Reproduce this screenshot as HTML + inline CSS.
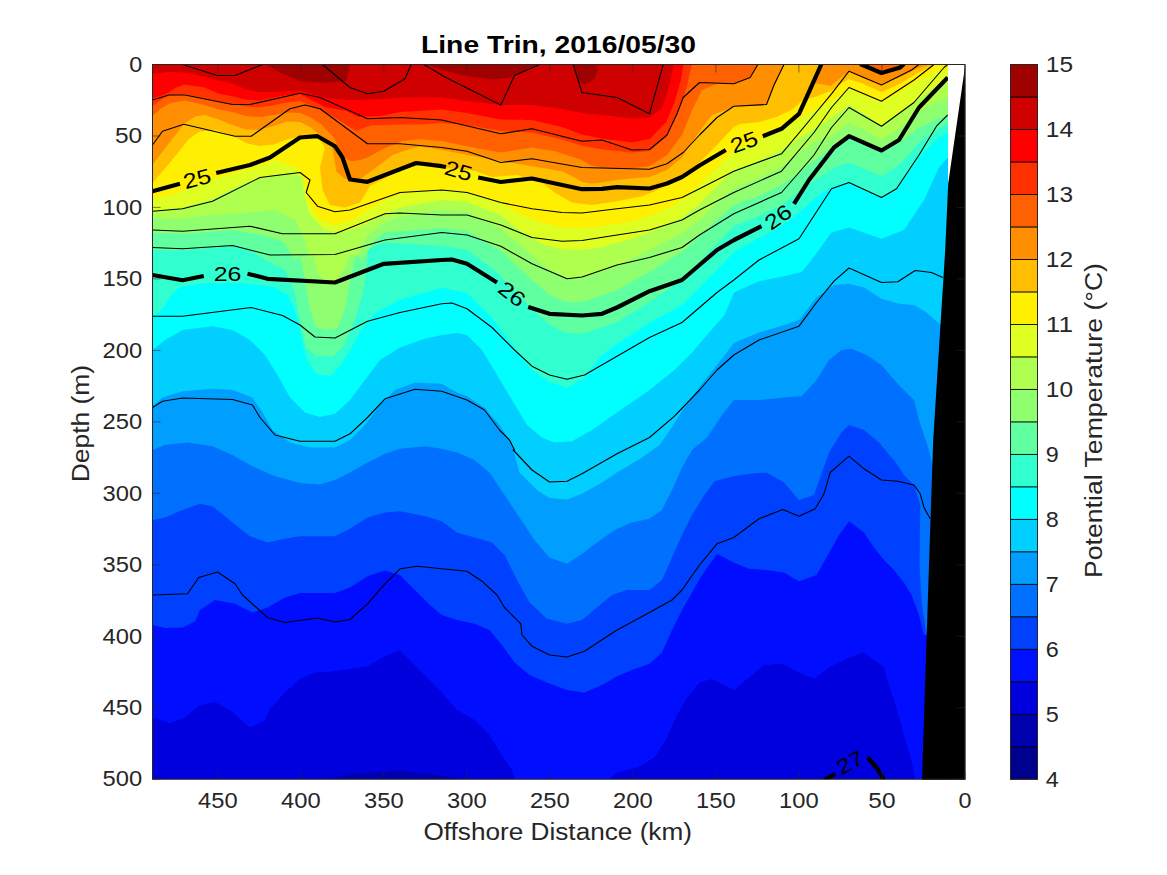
<!DOCTYPE html><html><head><meta charset="utf-8"><title>Line Trin</title>
<style>html,body{margin:0;padding:0;background:#fff}svg{display:block}text{font-family:"Liberation Sans",sans-serif}</style></head><body>
<svg width="1167" height="875" viewBox="0 0 1167 875">
<rect width="1167" height="875" fill="#fff"/>
<defs><clipPath id="cp"><rect x="152.5" y="64.5" width="795.5" height="714.7"/></clipPath><filter id="bl" x="-2%" y="-2%" width="104%" height="104%"><feGaussianBlur stdDeviation="0.6"/></filter></defs>
<g clip-path="url(#cp)"><g filter="url(#bl)">
<rect x="142.5" y="54.5" width="832.4" height="734.7" fill="#0000df"/>
<polygon points="325.0,780.0 350.0,773.8 385.0,772.0 400.0,770.5 425.0,773.8 442.0,775.0 462.0,780.0" fill="#0000af"/>
<polygon points="144.5,56.5 144.5,717.5 152.5,717.5 170.0,723.0 185.0,717.5 200.0,705.0 215.0,702.0 230.0,710.0 250.0,727.5 265.0,720.0 270.0,708.8 285.0,692.5 300.0,678.8 315.0,672.5 335.0,671.2 367.5,666.2 385.0,656.2 400.0,650.0 415.0,665.0 430.0,680.0 441.8,692.5 457.0,710.0 474.5,720.0 489.5,735.0 502.0,755.0 512.0,770.0 517.0,785.0 602.0,785.0 617.0,772.5 637.0,767.5 654.5,757.5 667.0,737.5 677.0,715.0 687.0,697.5 699.5,682.5 712.0,678.8 724.5,685.0 733.8,690.0 749.0,677.5 764.0,665.0 781.5,663.8 799.0,672.5 814.0,678.8 829.0,667.5 846.5,658.8 864.0,652.0 874.0,660.0 884.0,667.5 889.0,685.0 896.5,707.5 904.0,735.0 911.5,760.0 916.5,785.0 946.5,785.0 946.5,56.5" fill="#0010ff"/>
<polygon points="144.5,56.5 144.5,625.0 152.5,625.0 165.0,628.0 182.5,627.5 195.0,621.2 200.0,610.0 215.0,600.0 235.0,603.8 252.5,612.5 267.5,607.5 285.0,597.5 300.0,593.0 335.0,593.0 350.0,587.5 367.5,576.2 385.0,570.5 400.0,575.0 415.0,590.0 430.0,605.0 441.8,615.0 457.0,620.0 474.5,623.8 489.5,630.0 502.0,645.0 514.5,662.5 529.5,675.0 547.0,682.5 567.0,690.0 584.5,692.5 602.0,685.0 617.0,676.2 632.0,670.0 649.5,663.8 662.0,652.5 672.0,630.0 682.0,610.0 692.0,592.5 702.0,575.0 717.0,553.8 733.8,562.5 749.0,568.8 766.5,570.0 784.0,572.5 799.0,581.2 816.5,575.0 826.5,557.5 839.0,535.0 849.0,521.2 864.0,532.5 874.0,547.5 884.0,560.0 894.0,570.0 904.0,582.5 911.5,595.0 919.0,615.0 924.0,635.0 954.0,635.0 954.0,56.5" fill="#0040ff"/>
<polygon points="144.5,56.5 144.5,520.0 152.5,520.0 165.0,517.5 182.5,510.0 200.0,503.8 212.5,506.2 232.5,522.5 250.0,536.2 267.5,542.5 285.0,538.8 300.0,536.2 335.0,536.2 350.0,528.8 367.5,517.5 385.0,512.5 400.0,511.2 425.0,516.2 441.8,521.2 457.0,532.5 474.5,537.5 492.0,542.5 504.5,555.0 517.0,580.0 529.5,602.5 547.0,618.8 567.0,623.8 582.0,620.0 597.0,607.5 612.0,595.0 627.0,590.0 649.5,590.0 662.0,580.0 672.0,557.5 682.0,535.0 692.0,515.0 704.5,495.0 714.5,481.2 733.8,476.2 749.0,473.8 766.5,472.5 784.0,482.5 799.0,500.0 814.0,495.0 820.2,477.5 829.0,452.5 841.5,432.5 849.0,425.0 864.0,430.0 879.0,442.5 891.5,457.5 894.0,460.0 904.0,475.0 914.0,485.0 920.2,505.0 919.5,565.0 921.5,600.0 925.2,626.2 927.8,640.0 957.8,640.0 957.8,56.5" fill="#0070ff"/>
<polygon points="144.5,56.5 144.5,450.0 152.5,450.0 165.0,445.0 187.5,442.5 212.5,446.2 232.5,455.0 250.0,465.0 275.0,476.2 300.0,483.0 320.0,484.5 335.0,480.0 350.0,472.5 367.5,462.5 385.0,453.8 400.0,448.8 425.0,446.2 441.8,448.8 457.0,452.5 474.5,460.0 489.5,472.5 504.5,495.0 519.5,517.5 534.5,540.0 549.5,557.5 567.0,563.8 582.0,553.8 602.0,538.8 617.0,528.8 632.0,522.5 649.5,518.8 662.0,510.0 672.0,490.0 682.0,467.5 692.0,450.0 707.0,437.5 722.0,415.0 733.8,400.0 759.0,400.0 784.0,397.5 801.5,396.2 816.5,380.0 829.0,360.0 841.5,350.0 851.5,348.8 866.5,355.0 881.5,365.0 896.5,382.5 914.0,400.0 919.0,420.0 926.5,442.5 930.2,455.0 932.2,465.0 962.2,465.0 962.2,56.5" fill="#009fff"/>
<polygon points="144.5,56.5 144.5,406.2 152.5,406.2 162.5,397.5 182.5,391.2 212.5,388.8 232.5,390.0 252.5,397.5 262.5,412.5 272.5,430.0 290.0,442.5 310.0,447.5 335.0,447.5 350.0,440.0 365.0,425.0 380.0,405.0 395.0,390.0 415.0,382.5 441.8,383.8 457.0,392.5 467.0,396.2 484.5,407.5 499.5,425.0 512.0,445.0 519.5,472.5 537.0,490.0 549.5,498.0 567.0,499.5 582.0,493.8 602.0,482.5 617.0,472.5 642.0,457.5 659.5,445.0 670.0,430.0 682.0,411.0 699.5,387.0 717.0,365.0 734.0,343.0 759.0,332.5 784.0,325.0 799.0,320.0 816.5,297.5 834.0,285.0 849.0,283.8 864.0,287.5 881.5,298.8 899.0,303.8 914.0,305.0 926.5,312.5 936.5,321.2 941.0,325.0 971.0,325.0 971.0,56.5" fill="#00cfff"/>
<polygon points="144.5,56.5 144.5,350.0 152.5,350.0 165.0,340.0 182.5,330.0 212.5,326.2 232.5,330.0 250.0,340.0 265.0,355.0 277.5,375.0 290.0,397.5 305.0,412.5 320.0,417.0 335.0,413.8 350.0,400.0 365.0,380.0 380.0,360.0 400.0,347.5 425.0,338.8 441.8,335.0 457.0,333.0 467.0,335.0 482.0,350.0 497.0,375.0 512.0,400.0 527.0,425.0 542.0,437.5 554.5,442.5 572.0,441.2 592.0,430.0 617.0,412.5 649.5,390.0 674.5,370.0 692.0,352.5 707.0,335.0 724.5,315.0 734.0,292.5 759.0,281.2 784.0,276.2 801.5,272.0 811.5,260.0 831.5,232.5 849.0,227.5 881.5,238.8 904.0,230.0 924.0,200.0 939.0,167.5 947.8,157.5 977.8,157.5 977.8,56.5" fill="#00ffff"/>
<polygon points="144.5,56.5 144.5,318.0 152.5,318.0 163.7,307.6 170.6,295.3 180.2,287.0 204.9,283.0 246.0,283.6 273.5,287.0 287.2,295.3 294.0,308.0 299.0,325.0 303.0,345.0 308.0,362.0 316.0,374.0 330.0,376.0 340.0,366.0 350.0,350.0 361.0,330.0 376.0,312.5 400.0,300.0 425.0,292.5 442.0,288.0 467.0,293.0 492.0,318.0 514.5,348.0 532.0,370.0 549.5,382.0 567.0,388.0 584.5,378.0 600.0,357.0 617.0,344.0 649.5,323.0 682.0,305.0 699.5,288.0 717.0,270.0 734.0,252.0 759.0,238.0 781.5,226.0 800.0,212.0 815.0,198.0 831.5,187.0 849.0,182.5 881.5,197.5 896.5,188.8 919.0,157.0 936.5,140.0 949.0,132.0 979.0,132.0 979.0,56.5" fill="#30ffcf"/>
<polygon points="144.5,56.5 144.5,250.0 152.5,250.0 182.5,250.5 232.5,246.2 250.0,250.0 265.0,260.0 285.0,270.0 295.0,292.5 300.0,322.5 306.2,347.5 316.2,356.2 333.8,356.2 343.8,345.0 353.8,322.5 362.5,295.0 367.5,265.0 367.5,248.8 385.0,242.5 441.8,246.0 467.0,250.0 497.0,272.0 528.0,305.0 549.5,325.0 567.0,333.0 582.0,334.0 617.0,322.0 649.5,302.0 682.0,280.0 699.5,262.0 717.0,244.0 734.0,226.0 759.0,216.0 781.5,205.0 800.0,192.0 815.0,180.0 834.0,168.0 849.0,162.6 881.5,176.0 899.0,165.0 919.0,143.0 936.0,130.0 949.0,123.0 979.0,123.0 979.0,56.5" fill="#60ff9f"/>
<polygon points="144.5,56.5 144.5,232.5 152.5,232.5 182.5,233.8 232.5,230.0 262.5,235.0 282.5,241.2 295.0,260.0 300.0,255.0 305.0,280.0 310.0,310.0 315.5,326.2 325.0,330.0 337.5,328.0 344.5,310.0 350.5,280.0 355.5,255.0 362.5,260.0 375.0,240.0 385.0,232.5 441.8,228.0 467.0,231.0 500.0,250.0 532.0,280.0 549.5,295.0 567.0,302.0 582.0,302.0 617.0,290.0 649.5,272.0 682.0,252.0 699.5,236.0 717.0,220.0 734.0,205.0 759.0,196.0 781.5,185.0 800.0,172.0 815.0,160.0 834.0,146.0 849.0,136.2 881.5,150.5 899.0,142.0 919.0,128.0 935.0,120.0 949.0,115.0 979.0,115.0 979.0,56.5" fill="#8fff70"/>
<polygon points="144.5,56.5 144.5,218.0 152.5,218.0 182.5,218.8 212.5,215.0 250.0,212.5 275.0,210.0 295.0,220.0 305.0,240.0 310.0,260.0 313.8,255.0 317.5,272.5 325.0,282.5 337.5,281.2 346.2,265.0 349.2,255.0 357.5,255.0 367.5,235.0 385.0,222.5 400.0,216.2 441.8,210.0 467.0,212.0 500.0,228.0 532.0,255.0 549.5,270.0 567.0,278.0 582.0,278.0 617.0,266.0 649.5,250.0 682.0,233.0 699.5,220.0 717.0,203.0 734.0,188.0 759.0,178.0 781.5,167.0 800.0,152.0 815.0,142.0 831.0,136.0 849.0,123.0 865.0,130.0 881.5,140.0 900.0,128.0 914.0,115.0 930.0,105.0 949.0,97.0 979.0,97.0 979.0,56.5" fill="#afff50"/>
<polygon points="144.5,56.5 144.5,211.0 152.5,211.0 182.5,207.5 212.5,198.8 237.5,186.2 260.0,177.5 290.0,173.0 302.5,177.0 303.8,195.0 310.0,215.0 325.0,230.0 340.0,232.5 357.5,227.5 375.0,218.8 400.0,207.5 441.8,200.0 467.0,202.0 500.8,215.0 517.0,228.8 542.0,243.8 562.0,249.5 582.0,250.0 602.0,247.0 632.0,238.8 649.5,232.5 682.0,217.5 699.5,203.8 717.0,186.2 733.8,170.0 759.0,161.0 781.5,150.0 800.0,138.0 819.0,126.0 834.0,116.0 849.0,105.0 862.6,113.0 881.5,126.0 900.4,113.0 914.0,102.5 930.0,90.0 949.0,78.0 979.0,78.0 979.0,56.5" fill="#dfff20"/>
<polygon points="144.5,56.5 144.5,199.0 152.5,199.0 175.0,194.0 200.0,183.0 225.0,175.5 250.0,168.8 275.0,160.0 290.0,165.0 300.0,170.0 305.0,185.0 310.0,205.0 320.0,220.0 335.0,225.0 350.0,221.2 367.5,210.0 385.0,200.0 400.0,193.8 441.8,190.0 467.0,192.5 500.8,202.5 517.0,212.5 542.0,222.5 562.0,227.5 582.0,228.0 602.0,226.2 632.0,221.2 649.5,216.2 667.0,208.8 682.0,200.0 699.5,185.0 717.0,167.5 733.8,150.0 760.0,140.0 785.0,128.0 808.0,113.0 819.0,107.0 834.0,99.6 848.5,88.3 862.6,95.0 881.5,101.5 900.4,92.0 917.4,80.8 934.3,72.0 949.0,68.0 979.0,68.0 979.0,56.5" fill="#ffef00"/>
<polygon points="144.5,56.5 144.5,183.0 152.5,183.0 163.7,170.0 177.4,153.5 188.4,139.4 199.4,131.5 215.8,130.0 232.3,135.3 246.0,143.0 259.7,146.0 273.5,144.5 287.2,139.4 300.0,136.5 317.5,136.5 325.0,147.5 320.0,167.5 322.5,190.0 330.0,205.0 345.0,207.5 360.0,202.5 370.0,186.0 384.0,178.5 400.0,170.5 411.0,167.0 420.0,165.5 442.0,168.5 459.0,168.5 475.0,171.0 492.0,177.0 517.0,175.0 542.0,182.5 554.5,192.5 572.0,202.5 592.0,205.0 617.0,201.2 642.0,196.2 654.5,191.2 667.0,185.0 682.0,175.0 699.5,162.5 717.0,145.0 733.8,127.0 740.0,124.0 759.0,122.0 777.7,116.6 792.8,109.0 802.3,100.6 815.5,96.8 830.6,91.0 848.5,79.0 862.6,83.6 881.5,92.0 900.4,83.6 917.4,73.2 936.0,64.0 966.0,64.0 966.0,56.5" fill="#ffbf00"/>
<polygon points="144.5,56.5 144.5,165.0 152.5,165.0 163.7,150.0 174.7,136.0 184.3,123.5 195.3,116.5 204.9,115.0 218.6,119.5 232.3,125.0 246.0,129.5 259.7,129.8 273.5,126.0 287.2,121.5 300.0,122.0 310.0,127.0 322.0,136.8 331.5,145.0 334.0,157.0 336.3,171.5 344.7,178.7 350.0,179.5 361.0,178.5 374.8,168.5 393.0,154.8 411.4,148.4 420.0,146.6 442.0,150.0 467.0,155.0 500.8,161.0 517.0,163.8 532.0,166.2 562.0,171.2 574.5,177.5 582.0,182.0 592.0,183.8 602.0,182.5 617.0,180.0 632.0,178.5 649.5,177.0 667.0,170.0 682.0,157.5 697.0,135.0 712.0,115.0 733.8,107.0 766.5,105.0 775.2,85.0 784.0,64.0 814.0,64.0 814.0,56.5" fill="#ff8f00"/>
<polygon points="821.5,64.0 818.0,75.0 814.5,83.0 830.6,86.0 849.0,71.0 862.6,77.0 881.5,84.0 900.4,77.0 917.4,68.5 930.6,64.0" fill="#ff8f00"/>
<polygon points="144.5,56.5 144.5,116.0 152.7,116.0 161.0,108.5 170.6,103.0 185.6,100.4 204.8,105.2 218.5,109.4 232.3,112.1 246.0,116.0 259.7,117.0 273.5,115.0 287.2,112.5 300.0,113.0 310.0,117.0 322.0,125.0 334.0,138.0 342.0,154.0 347.4,159.4 352.0,161.2 361.0,159.8 367.5,157.5 384.0,148.4 402.3,141.0 420.0,139.2 442.0,141.0 467.0,146.2 500.8,152.5 532.0,147.5 556.0,151.5 582.0,160.0 590.0,165.0 602.0,168.0 632.0,168.5 649.5,166.0 667.0,155.0 682.0,135.0 692.0,110.0 702.0,90.0 717.0,83.8 733.8,83.8 750.2,77.5 757.8,64.0 787.8,64.0 787.8,56.5" fill="#ff6000"/>
<polygon points="860.2,64.0 881.5,73.0 900.2,67.5 904.0,64.0" fill="#ff6000"/>
<polygon points="144.5,56.5 144.5,106.0 152.7,106.0 160.0,100.5 169.2,95.5 185.6,94.3 204.8,98.4 218.5,101.1 235.0,104.6 246.0,106.6 259.7,107.3 273.4,105.2 287.0,102.5 300.8,101.1 325.0,112.0 342.9,122.8 356.6,131.0 362.0,128.3 371.2,125.5 400.0,124.6 420.0,124.6 442.0,123.0 467.0,125.0 500.8,131.0 532.0,132.5 562.0,139.5 582.0,145.8 602.0,149.2 632.0,152.5 649.5,151.0 667.0,136.2 677.0,115.0 685.8,90.0 692.0,64.0 722.0,64.0 722.0,56.5" fill="#ff3000"/>
<polygon points="144.5,56.5 144.5,98.0 152.7,98.0 161.0,96.0 168.4,92.8 176.0,87.5 184.3,84.5 204.8,87.5 218.5,93.6 232.3,96.3 246.0,99.8 259.7,100.4 273.4,97.7 287.1,95.0 300.0,94.0 325.0,107.0 346.5,111.0 358.4,117.0 380.0,116.0 400.0,112.0 442.0,109.5 467.0,113.0 500.8,119.5 532.0,120.0 562.0,127.0 582.0,134.5 602.0,138.5 632.0,142.5 649.5,139.0 665.8,122.5 674.5,102.5 680.8,80.0 683.5,64.0 713.5,64.0 713.5,56.5" fill="#ff0000"/>
<polygon points="144.5,56.5 144.5,73.7 152.7,73.7 170.6,71.7 188.4,73.0 204.8,77.1 218.5,80.6 232.3,83.3 246.0,89.5 259.7,92.2 273.4,92.2 287.1,90.8 300.0,90.5 325.0,98.0 350.0,100.0 375.0,99.5 400.0,97.5 442.0,97.5 467.0,101.0 500.8,105.0 532.0,105.0 562.0,109.0 582.0,113.0 602.0,115.0 632.0,118.5 649.5,117.5 662.0,108.0 668.0,90.0 672.0,72.0 674.0,63.0 704.0,63.0 704.0,56.5" fill="#cf0000"/>
<polygon points="265.0,64.0 280.0,72.5 300.0,81.0 325.0,83.0 346.2,81.0 350.0,64.0" fill="#9f0000"/>
<polygon points="425.0,64.0 442.0,70.0 467.0,76.0 492.0,79.5 510.0,77.5 525.0,70.0 539.0,64.0" fill="#9f0000"/>
<polygon points="573.0,64.0 578.0,80.0 584.5,85.0 594.5,78.8 598.0,70.0 596.0,64.0" fill="#9f0000"/>
</g></g>
<g clip-path="url(#cp)" fill="none" stroke="#000" stroke-linejoin="round">
<polyline points="182.5,64.5 217.5,75.5 235.0,75.5 262.5,64.5" stroke-width="1.1"/>
<polyline points="322.5,64.5 350.0,87.5 367.5,93.8 383.8,91.2 405.0,78.8 411.2,64.5" stroke-width="1.1"/>
<polyline points="423.8,64.5 441.8,75.0 442.0,75.5 500.8,105.0 514.5,75.5 539.5,64.5" stroke-width="1.1"/>
<polyline points="573.2,64.5 582.0,92.5 617.0,97.5 649.5,113.8 663.2,64.5" stroke-width="1.1"/>
<polyline points="152.5,100.0 168.8,95.0 185.0,95.0 232.5,104.5 250.0,104.5 300.0,93.2 320.0,97.5 367.5,118.8 400.0,117.5 441.8,120.0 500.8,133.8 532.0,128.8 582.0,141.2 602.0,140.0 632.0,150.0 649.5,149.5 667.0,135.0 677.0,113.8 683.2,97.5 699.5,82.5 733.8,83.8 750.2,77.5 757.8,64.5" stroke-width="1.1"/>
<polyline points="152.5,145.0 162.5,131.2 183.8,124.2 235.0,136.2 251.2,136.2 290.0,108.8 305.0,105.0 320.0,108.8 367.5,143.8 400.0,143.8 441.8,147.5 467.0,151.2 500.8,162.5 532.0,158.8 582.0,167.5 649.5,169.2 667.0,163.8 683.2,152.5 699.5,135.0 717.0,117.5 733.8,106.2 766.5,104.5 774.0,85.0 784.0,64.5" stroke-width="1.1"/>
<polyline points="152.5,211.2 182.5,208.8 212.5,201.2 260.0,177.5 300.0,172.5 310.0,180.0 306.2,192.5 317.5,206.2 335.0,211.8 350.0,210.0 400.0,192.5 441.8,190.0 467.0,192.5 500.8,202.5 532.0,208.8 562.0,212.5 582.0,213.0 617.0,208.8 649.5,205.0 682.0,197.5 699.5,188.8 733.8,171.2 781.5,153.8 814.0,115.0 831.5,93.8 849.0,71.2 881.5,85.0 911.5,70.0 919.0,64.5" stroke-width="1.1"/>
<polyline points="152.5,230.0 182.5,231.2 250.0,226.2 282.5,233.8 335.0,233.8 385.0,213.8 400.0,213.0 441.8,215.0 467.0,215.0 500.8,225.0 532.0,237.5 562.0,241.2 582.0,240.5 617.0,235.0 649.5,230.0 682.0,220.0 699.5,210.0 733.8,192.5 781.5,171.2 814.0,132.5 831.5,107.5 849.0,87.5 881.5,101.2 914.0,80.0 934.0,64.5" stroke-width="1.1"/>
<polyline points="152.5,247.5 182.5,248.8 232.5,245.5 270.0,255.0 335.0,254.5 385.0,240.0 441.8,232.5 467.0,235.0 500.8,246.2 532.0,263.8 549.5,271.2 567.0,278.8 582.0,277.0 617.0,265.0 649.5,257.5 682.0,247.5 699.5,235.0 733.8,213.8 781.5,192.5 799.0,172.5 814.0,155.0 831.5,127.5 849.0,107.5 881.5,126.2 914.0,102.5 944.0,67.5 947.8,64.5" stroke-width="1.1"/>
<polyline points="152.5,316.2 182.5,316.2 251.2,307.5 282.5,315.5 300.0,325.0 315.0,337.0 335.0,338.0 367.5,321.2 400.0,312.5 441.8,303.8 452.0,303.0 467.0,308.8 492.0,327.5 514.5,350.0 532.0,366.2 549.5,375.0 567.0,379.2 584.5,375.0 617.0,356.2 649.5,337.5 682.0,322.5 699.5,307.5 717.0,292.5 733.8,280.0 759.0,260.0 799.0,238.8 831.5,188.8 849.0,182.5 881.5,197.5 896.5,188.8 919.0,155.0 936.5,126.2 947.8,115.0" stroke-width="1.1"/>
<polyline points="152.5,407.5 162.5,401.2 182.5,398.0 232.5,399.5 252.5,405.0 260.0,417.5 275.0,435.0 300.0,441.2 335.0,441.2 350.0,433.8 367.5,417.5 385.0,398.8 415.0,389.2 441.8,391.2 467.0,400.0 484.5,410.0 499.5,430.0 509.5,440.0 514.5,450.0 513.2,450.0 532.0,470.0 549.5,482.0 567.0,481.2 582.0,473.8 617.0,453.8 649.5,437.5 674.5,416.2 699.5,390.0 717.0,370.0 733.8,355.0 759.0,340.0 799.0,326.2 816.5,302.5 834.0,281.2 849.0,268.0 881.5,282.5 897.8,281.8 915.2,270.5 931.5,272.5 942.8,277.5" stroke-width="1.1"/>
<polyline points="152.5,595.0 187.5,593.8 198.8,577.5 217.5,572.0 235.0,583.8 242.5,595.0 267.5,617.5 285.0,622.5 317.5,618.0 335.0,622.0 350.0,619.5 367.5,603.8 385.0,583.8 400.0,568.8 417.5,566.2 441.8,568.8 467.0,571.2 482.0,581.2 497.0,595.0 504.5,607.5 520.8,623.8 522.0,635.0 532.0,646.2 549.5,655.0 567.0,657.0 584.5,651.2 617.0,630.0 649.5,612.5 672.0,600.0 682.0,590.0 699.5,565.0 717.0,543.8 733.8,537.5 759.0,518.8 782.8,509.5 799.0,516.2 815.2,508.8 824.0,493.8 830.2,472.5 849.0,456.2 864.0,468.8 881.5,480.0 897.8,481.2 914.0,485.0 920.2,493.8 924.0,507.5 930.2,518.8" stroke-width="1.1"/>
<polyline points="152.5,191.2 180.0,183.8" stroke-width="4.2"/>
<polyline points="216.2,173.0 250.0,165.0 270.0,157.5 300.0,137.5 317.5,136.2 335.0,146.2 342.5,157.5 350.0,179.5 367.5,181.8 385.0,175.0 416.2,163.0 441.8,166.2 446.0,167.0" stroke-width="4.2"/>
<polyline points="478.2,177.5 500.8,182.0 532.0,178.5 549.5,182.2 582.0,189.2 602.0,188.8 617.0,187.2 649.5,188.5 667.0,183.5 682.0,177.0 699.5,165.5 725.8,150.0" stroke-width="4.2"/>
<polyline points="762.8,136.2 781.5,128.8 799.0,113.8 806.5,97.5 821.5,64.0" stroke-width="4.2"/>
<polyline points="860.2,64.0 881.5,73.0 900.2,67.5 904.0,64.0" stroke-width="4.2"/>
<polyline points="152.5,275.0 182.5,280.2 203.8,276.0" stroke-width="4.2"/>
<polyline points="247.5,273.8 255.0,275.5 267.5,278.8 335.0,282.5 383.8,263.8 441.8,260.0 452.0,259.5 467.0,263.8 497.0,282.5" stroke-width="4.2"/>
<polyline points="528.2,307.0 549.5,313.8 582.0,315.5 602.0,313.8 617.0,307.5 649.5,291.2 682.0,280.0 699.5,265.0 717.0,250.0 734.0,240.0 761.5,226.2" stroke-width="4.2"/>
<polyline points="794.0,203.8 809.0,180.0 834.0,147.5 849.0,136.2 881.5,150.5 899.0,140.0 919.0,107.5 947.8,77.5" stroke-width="4.2"/>
<polyline points="824.0,780.0 835.2,773.8" stroke-width="4.2"/>
<polyline points="867.8,757.5 876.5,767.5 884.0,780.0" stroke-width="4.2"/>
</g>
<text x="197" y="185.9" font-size="21" text-anchor="middle" fill="#000" transform="rotate(-15 197 178.5)" textLength="27.7" lengthAdjust="spacingAndGlyphs">25</text>
<text x="458.5" y="178.1" font-size="21" text-anchor="middle" fill="#000" transform="rotate(16 458.5 170.7)" textLength="27.7" lengthAdjust="spacingAndGlyphs">25</text>
<text x="744" y="149.4" font-size="21" text-anchor="middle" fill="#000" transform="rotate(-20 744 142)" textLength="27.7" lengthAdjust="spacingAndGlyphs">25</text>
<text x="227.5" y="281.1" font-size="21" text-anchor="middle" fill="#000" transform="rotate(0 227.5 273.7)" textLength="27.7" lengthAdjust="spacingAndGlyphs">26</text>
<text x="512" y="301.4" font-size="21" text-anchor="middle" fill="#000" transform="rotate(38 512 294)" textLength="27.7" lengthAdjust="spacingAndGlyphs">26</text>
<text x="778" y="224.4" font-size="21" text-anchor="middle" fill="#000" transform="rotate(-35 778 217)" textLength="27.7" lengthAdjust="spacingAndGlyphs">26</text>
<text x="850" y="769.9" font-size="21" text-anchor="middle" fill="#000" transform="rotate(-28 850 762.5)" textLength="27.7" lengthAdjust="spacingAndGlyphs">27</text>
<polygon points="965.4,64 948.2,183.5 947,210 945.2,250 933.2,440 929,565 922,779.7 965.4,779.7" fill="#000"/>
<g stroke="#262626" stroke-width="1" fill="none">
<rect x="152.5" y="64.5" width="812.4" height="714.7"/>
</g><g stroke="#262626" stroke-width="0.8" stroke-opacity="0.75" fill="none">
<path d="M964.9 779.2v-8M964.9 64.5v8"/>
<path d="M881.9 779.2v-8M881.9 64.5v8"/>
<path d="M798.9 779.2v-8M798.9 64.5v8"/>
<path d="M715.9 779.2v-8M715.9 64.5v8"/>
<path d="M632.9 779.2v-8M632.9 64.5v8"/>
<path d="M549.9 779.2v-8M549.9 64.5v8"/>
<path d="M466.9 779.2v-8M466.9 64.5v8"/>
<path d="M383.9 779.2v-8M383.9 64.5v8"/>
<path d="M300.9 779.2v-8M300.9 64.5v8"/>
<path d="M217.9 779.2v-8M217.9 64.5v8"/>
<path d="M152.5 64.5h8M964.9 64.5h-8"/>
<path d="M152.5 136.0h8M964.9 136.0h-8"/>
<path d="M152.5 207.4h8M964.9 207.4h-8"/>
<path d="M152.5 278.9h8M964.9 278.9h-8"/>
<path d="M152.5 350.4h8M964.9 350.4h-8"/>
<path d="M152.5 421.9h8M964.9 421.9h-8"/>
<path d="M152.5 493.3h8M964.9 493.3h-8"/>
<path d="M152.5 564.8h8M964.9 564.8h-8"/>
<path d="M152.5 636.3h8M964.9 636.3h-8"/>
<path d="M152.5 707.7h8M964.9 707.7h-8"/>
<path d="M152.5 779.2h8M964.9 779.2h-8"/>
</g>
<g fill="#262626" font-size="21.6">
<text x="964.9" y="808.2" text-anchor="middle" textLength="13" lengthAdjust="spacingAndGlyphs">0</text>
<text x="881.9" y="808.2" text-anchor="middle" textLength="27.2" lengthAdjust="spacingAndGlyphs">50</text>
<text x="798.9" y="808.2" text-anchor="middle" textLength="39.6" lengthAdjust="spacingAndGlyphs">100</text>
<text x="715.9" y="808.2" text-anchor="middle" textLength="39.6" lengthAdjust="spacingAndGlyphs">150</text>
<text x="632.9" y="808.2" text-anchor="middle" textLength="39.6" lengthAdjust="spacingAndGlyphs">200</text>
<text x="549.9" y="808.2" text-anchor="middle" textLength="39.6" lengthAdjust="spacingAndGlyphs">250</text>
<text x="466.9" y="808.2" text-anchor="middle" textLength="39.6" lengthAdjust="spacingAndGlyphs">300</text>
<text x="383.9" y="808.2" text-anchor="middle" textLength="39.6" lengthAdjust="spacingAndGlyphs">350</text>
<text x="300.9" y="808.2" text-anchor="middle" textLength="39.6" lengthAdjust="spacingAndGlyphs">400</text>
<text x="217.9" y="808.2" text-anchor="middle" textLength="39.6" lengthAdjust="spacingAndGlyphs">450</text>
<text x="142.2" y="71.7" text-anchor="end" textLength="13" lengthAdjust="spacingAndGlyphs">0</text>
<text x="142.2" y="143.2" text-anchor="end" textLength="27.2" lengthAdjust="spacingAndGlyphs">50</text>
<text x="142.2" y="214.6" text-anchor="end" textLength="39.6" lengthAdjust="spacingAndGlyphs">100</text>
<text x="142.2" y="286.1" text-anchor="end" textLength="39.6" lengthAdjust="spacingAndGlyphs">150</text>
<text x="142.2" y="357.6" text-anchor="end" textLength="39.6" lengthAdjust="spacingAndGlyphs">200</text>
<text x="142.2" y="429.1" text-anchor="end" textLength="39.6" lengthAdjust="spacingAndGlyphs">250</text>
<text x="142.2" y="500.5" text-anchor="end" textLength="39.6" lengthAdjust="spacingAndGlyphs">300</text>
<text x="142.2" y="572.0" text-anchor="end" textLength="39.6" lengthAdjust="spacingAndGlyphs">350</text>
<text x="142.2" y="643.5" text-anchor="end" textLength="39.6" lengthAdjust="spacingAndGlyphs">400</text>
<text x="142.2" y="714.9" text-anchor="end" textLength="39.6" lengthAdjust="spacingAndGlyphs">450</text>
<text x="142.2" y="786.4" text-anchor="end" textLength="39.6" lengthAdjust="spacingAndGlyphs">500</text>
<text x="1045.8" y="786.8" textLength="13" lengthAdjust="spacingAndGlyphs">4</text>
<text x="1045.8" y="721.8" textLength="13" lengthAdjust="spacingAndGlyphs">5</text>
<text x="1045.8" y="656.9" textLength="13" lengthAdjust="spacingAndGlyphs">6</text>
<text x="1045.8" y="591.9" textLength="13" lengthAdjust="spacingAndGlyphs">7</text>
<text x="1045.8" y="526.9" textLength="13" lengthAdjust="spacingAndGlyphs">8</text>
<text x="1045.8" y="462.0" textLength="13" lengthAdjust="spacingAndGlyphs">9</text>
<text x="1045.8" y="397.0" textLength="27.2" lengthAdjust="spacingAndGlyphs">10</text>
<text x="1045.8" y="332.0" textLength="27.2" lengthAdjust="spacingAndGlyphs">11</text>
<text x="1045.8" y="267.0" textLength="27.2" lengthAdjust="spacingAndGlyphs">12</text>
<text x="1045.8" y="202.1" textLength="27.2" lengthAdjust="spacingAndGlyphs">13</text>
<text x="1045.8" y="137.1" textLength="27.2" lengthAdjust="spacingAndGlyphs">14</text>
<text x="1045.8" y="72.1" textLength="27.2" lengthAdjust="spacingAndGlyphs">15</text>
</g>
<text x="558.5" y="52.5" font-size="23.3" font-weight="bold" text-anchor="middle" fill="#000" textLength="275" lengthAdjust="spacingAndGlyphs">Line Trin, 2016/05/30</text>
<text x="557.7" y="839.8" font-size="23" text-anchor="middle" fill="#262626" textLength="268.5" lengthAdjust="spacingAndGlyphs">Offshore Distance (km)</text>
<text x="0" y="0" font-size="23" text-anchor="middle" fill="#262626" textLength="117.5" lengthAdjust="spacingAndGlyphs" transform="translate(89.3 423.6) rotate(-90)">Depth (m)</text>
<text x="0" y="0" font-size="23" text-anchor="middle" fill="#262626" textLength="315" lengthAdjust="spacingAndGlyphs" transform="translate(1101.8 420.5) rotate(-90)">Potential Temperature (°C)</text>
<rect x="1010.5" y="746.71" width="27" height="32.486" fill="#00008f" stroke="#000" stroke-width="0.8"/>
<rect x="1010.5" y="714.23" width="27" height="32.486" fill="#0000af" stroke="#000" stroke-width="0.8"/>
<rect x="1010.5" y="681.74" width="27" height="32.486" fill="#0000df" stroke="#000" stroke-width="0.8"/>
<rect x="1010.5" y="649.26" width="27" height="32.486" fill="#0010ff" stroke="#000" stroke-width="0.8"/>
<rect x="1010.5" y="616.77" width="27" height="32.486" fill="#0040ff" stroke="#000" stroke-width="0.8"/>
<rect x="1010.5" y="584.28" width="27" height="32.486" fill="#0070ff" stroke="#000" stroke-width="0.8"/>
<rect x="1010.5" y="551.80" width="27" height="32.486" fill="#009fff" stroke="#000" stroke-width="0.8"/>
<rect x="1010.5" y="519.31" width="27" height="32.486" fill="#00cfff" stroke="#000" stroke-width="0.8"/>
<rect x="1010.5" y="486.83" width="27" height="32.486" fill="#00ffff" stroke="#000" stroke-width="0.8"/>
<rect x="1010.5" y="454.34" width="27" height="32.486" fill="#30ffcf" stroke="#000" stroke-width="0.8"/>
<rect x="1010.5" y="421.85" width="27" height="32.486" fill="#60ff9f" stroke="#000" stroke-width="0.8"/>
<rect x="1010.5" y="389.37" width="27" height="32.486" fill="#8fff70" stroke="#000" stroke-width="0.8"/>
<rect x="1010.5" y="356.88" width="27" height="32.486" fill="#afff50" stroke="#000" stroke-width="0.8"/>
<rect x="1010.5" y="324.40" width="27" height="32.486" fill="#dfff20" stroke="#000" stroke-width="0.8"/>
<rect x="1010.5" y="291.91" width="27" height="32.486" fill="#ffef00" stroke="#000" stroke-width="0.8"/>
<rect x="1010.5" y="259.42" width="27" height="32.486" fill="#ffbf00" stroke="#000" stroke-width="0.8"/>
<rect x="1010.5" y="226.94" width="27" height="32.486" fill="#ff8f00" stroke="#000" stroke-width="0.8"/>
<rect x="1010.5" y="194.45" width="27" height="32.486" fill="#ff6000" stroke="#000" stroke-width="0.8"/>
<rect x="1010.5" y="161.97" width="27" height="32.486" fill="#ff3000" stroke="#000" stroke-width="0.8"/>
<rect x="1010.5" y="129.48" width="27" height="32.486" fill="#ff0000" stroke="#000" stroke-width="0.8"/>
<rect x="1010.5" y="96.99" width="27" height="32.486" fill="#cf0000" stroke="#000" stroke-width="0.8"/>
<rect x="1010.5" y="64.51" width="27" height="32.486" fill="#9f0000" stroke="#000" stroke-width="0.8"/>
<rect x="1010.5" y="64.5" width="27" height="714.7" fill="none" stroke="#262626" stroke-width="1"/>
</svg></body></html>
